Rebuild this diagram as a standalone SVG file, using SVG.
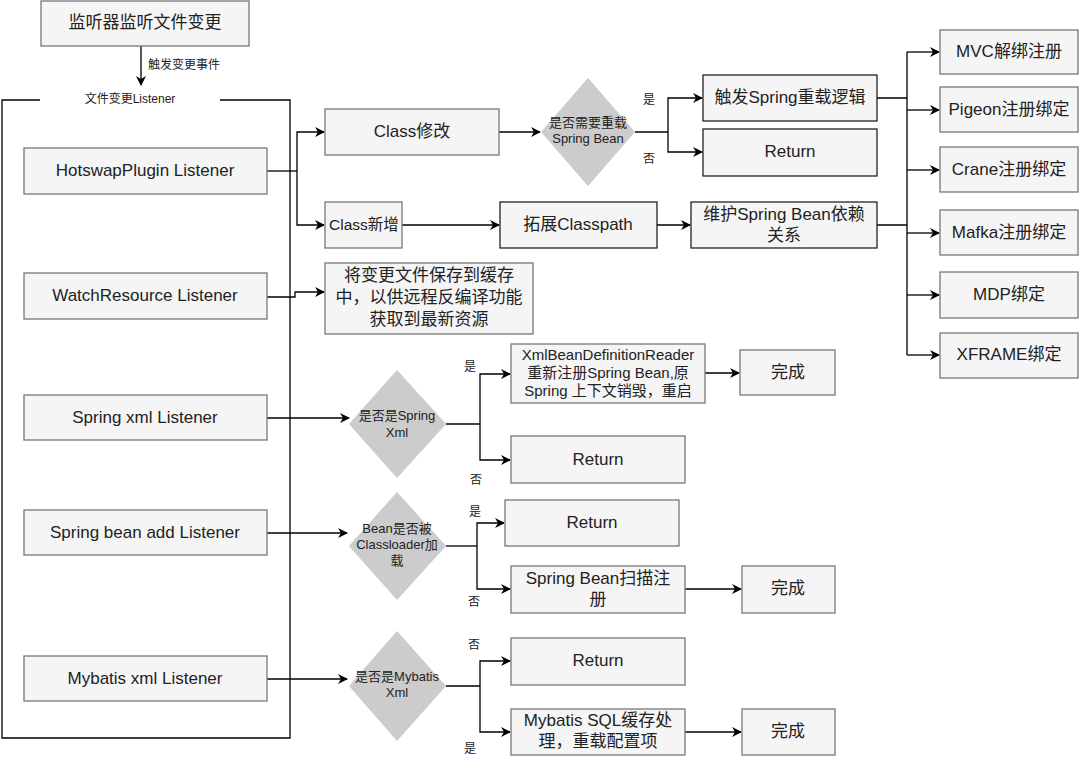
<svg xmlns="http://www.w3.org/2000/svg" width="1080" height="760" viewBox="0 0 1080 760">
<defs>
<marker id="ah" markerWidth="10" markerHeight="10" refX="9" refY="5" orient="auto" markerUnits="userSpaceOnUse"><path d="M0,0 L10,5 L0,10 L3,5 Z" fill="#000"/></marker>
<style>
text{font-family:"Liberation Sans","Noto Sans CJK SC",sans-serif;fill:#222;text-anchor:middle;dominant-baseline:middle}
.b{fill:#f5f5f5;stroke:#777;stroke-width:1.3}
.d{fill:#f5f5f5;stroke:#222;stroke-width:1.3}
.dm{fill:#cccccc}
.t{font-size:17px}
.s{font-size:13px}
.l{font-size:12px}
.c{fill:none;stroke:#000;stroke-width:1.3}
.a{fill:none;stroke:#000;stroke-width:1.3;marker-end:url(#ah)}
</style>
</defs>
<g id="connectors">
<path class="a" d="M141,46 V85"/>
<path class="c" d="M40,100 H2 V738 H290 V100 H220"/>
<path class="c" d="M267,171 H297"/>
<path class="a" d="M297,171 V132 H324"/>
<path class="a" d="M297,171 V225 H324"/>
<path class="a" d="M499,132 H540"/>
<path class="c" d="M635,132 H668"/>
<path class="a" d="M668,132 V98 H702"/>
<path class="a" d="M668,132 V152 H702"/>
<path class="a" d="M402,225 H499"/>
<path class="a" d="M657,225 H690"/>
<path class="c" d="M877,98 H907 M877,225 H907 M907,52 V355"/>
<path class="a" d="M907,52 H939"/>
<path class="a" d="M907,110 H939"/>
<path class="a" d="M907,170 H939"/>
<path class="a" d="M907,233 H939"/>
<path class="a" d="M907,295 H939"/>
<path class="a" d="M907,355 H939"/>
<path class="a" d="M267,297 H295 V292 H324"/>
<path class="a" d="M267,418 H349"/>
<path class="c" d="M446,424 H480"/>
<path class="a" d="M480,424 V374 H510"/>
<path class="a" d="M480,424 V460 H510"/>
<path class="a" d="M705,373 H739"/>
<path class="a" d="M267,533 H347"/>
<path class="c" d="M446,546 H477"/>
<path class="a" d="M477,546 V523 H504"/>
<path class="a" d="M477,546 V589 H510"/>
<path class="a" d="M685,589 H741"/>
<path class="a" d="M267,679 H347"/>
<path class="c" d="M446,686 H480"/>
<path class="a" d="M480,686 V661 H510"/>
<path class="a" d="M480,686 V732 H510"/>
<path class="a" d="M685,732 H741"/>
<text class="l" x="184" y="66">触发变更事件</text>
<text class="l" x="130" y="100">文件变更Listener</text>
<text class="l" x="649" y="101">是</text>
<text class="l" x="649" y="160">否</text>
<text class="l" x="470" y="368">是</text>
<text class="l" x="476" y="481">否</text>
<text class="l" x="475" y="513">是</text>
<text class="l" x="474" y="603">否</text>
<text class="l" x="474" y="646">否</text>
<text class="l" x="470" y="750">是</text>
</g>
<g id="n-top"><rect class="b" x="41" y="1" width="208" height="45"/><text class="t" x="145" y="24">监听器监听文件变更</text></g>
<g id="n-hot"><rect class="b" x="24" y="148" width="243" height="46"/><text class="t" x="145" y="172">HotswapPlugin Listener</text></g>
<g id="n-watch"><rect class="b" x="24" y="273" width="243" height="46"/><text class="t" x="145" y="297">WatchResource Listener</text></g>
<g id="n-sxml"><rect class="b" x="24" y="395" width="243" height="45"/><text class="t" x="145" y="419">Spring xml Listener</text></g>
<g id="n-sbean"><rect class="b" x="24" y="510" width="243" height="45"/><text class="t" x="145" y="534">Spring bean add Listener</text></g>
<g id="n-mxml"><rect class="b" x="24" y="656" width="243" height="45"/><text class="t" x="145" y="680">Mybatis xml Listener</text></g>
<g id="n-cmod"><rect class="b" x="325" y="109" width="174" height="46"/><text class="t" x="412" y="133">Class修改</text></g>
<g id="n-cadd"><rect class="b" x="325" y="202" width="77" height="46"/><text x="364" y="226" style="font-size:15.5px">Class新增</text></g>
<g id="n-dia1"><polygon class="dm" points="588,78 635,132 588,186 541,132"/><text class="s" x="588" y="124">是否需要重载</text><text class="s" x="588" y="140">Spring Bean</text></g>
<g id="n-trig"><rect class="d" x="703" y="75" width="174" height="46"/><text class="t" x="790" y="99">触发Spring重载逻辑</text></g>
<g id="n-ret1"><rect class="d" x="703" y="129" width="174" height="47"/><text class="t" x="790" y="153">Return</text></g>
<g id="n-cp"><rect class="d" x="500" y="202" width="157" height="46"/><text class="t" x="578" y="226">拓展Classpath</text></g>
<g id="n-dep"><rect class="d" x="691" y="202" width="186" height="46"/><text class="t" x="784" y="216">维护Spring Bean依赖</text><text class="t" x="784" y="237">关系</text></g>
<g id="n-mvc"><rect class="b" x="940" y="30" width="138" height="44"/><text class="t" x="1009" y="53">MVC解绑注册</text></g>
<g id="n-pig"><rect class="b" x="940" y="87" width="138" height="45"/><text class="t" x="1009" y="111">Pigeon注册绑定</text></g>
<g id="n-crane"><rect class="b" x="940" y="147" width="138" height="45"/><text class="t" x="1009" y="171">Crane注册绑定</text></g>
<g id="n-mafka"><rect class="b" x="940" y="210" width="138" height="45"/><text class="t" x="1009" y="234">Mafka注册绑定</text></g>
<g id="n-mdp"><rect class="b" x="940" y="272" width="138" height="46"/><text class="t" x="1009" y="296">MDP绑定</text></g>
<g id="n-xf"><rect class="b" x="940" y="333" width="138" height="45"/><text class="t" x="1009" y="356">XFRAME绑定</text></g>
<g id="n-cache"><rect class="b" x="325" y="263" width="208" height="71"/><text class="t" x="429" y="277">将变更文件保存到缓存</text><text class="t" x="429" y="299">中，以供远程反编译功能</text><text class="t" x="429" y="321">获取到最新资源</text></g>
<g id="n-dia2"><polygon class="dm" points="397,370 446,424 397,478 349,424"/><text class="s" x="397" y="417">是否是Spring</text><text class="s" x="397" y="434">Xml</text></g>
<g id="n-xmlr"><rect class="b" x="511" y="344" width="194" height="59"/><text x="608" y="356" style="font-size:15px">XmlBeanDefinitionReader</text><text x="608" y="374" style="font-size:15px">重新注册Spring Bean,原</text><text x="608" y="392" style="font-size:15px">Spring 上下文销毁，重启</text></g>
<g id="n-ok1"><rect class="b" x="740" y="350" width="95" height="45"/><text class="t" x="788" y="374">完成</text></g>
<g id="n-ret2"><rect class="b" x="511" y="436" width="174" height="47"/><text class="t" x="598" y="461">Return</text></g>
<g id="n-dia3"><polygon class="dm" points="397,492 446,546 397,600 349,546"/><text class="s" x="397" y="530">Bean是否被</text><text class="s" x="397" y="546">Classloader加</text><text class="s" x="397" y="562">载</text></g>
<g id="n-ret3"><rect class="b" x="505" y="500" width="174" height="46"/><text class="t" x="592" y="524">Return</text></g>
<g id="n-scan"><rect class="b" x="511" y="566" width="174" height="47"/><text class="t" x="598" y="580">Spring Bean扫描注</text><text class="t" x="598" y="601">册</text></g>
<g id="n-ok2"><rect class="b" x="742" y="566" width="93" height="47"/><text class="t" x="788" y="590">完成</text></g>
<g id="n-dia4"><polygon class="dm" points="397,631 446,686 397,741 349,686"/><text class="s" x="397" y="678">是否是Mybatis</text><text class="s" x="397" y="694">Xml</text></g>
<g id="n-ret4"><rect class="b" x="511" y="638" width="174" height="47"/><text class="t" x="598" y="662">Return</text></g>
<g id="n-sql"><rect class="b" x="511" y="709" width="174" height="46"/><text class="t" x="598" y="722">Mybatis SQL缓存处</text><text class="t" x="598" y="743">理，重载配置项</text></g>
<g id="n-ok3"><rect class="b" x="742" y="709" width="93" height="46"/><text class="t" x="788" y="733">完成</text></g>
</svg>
